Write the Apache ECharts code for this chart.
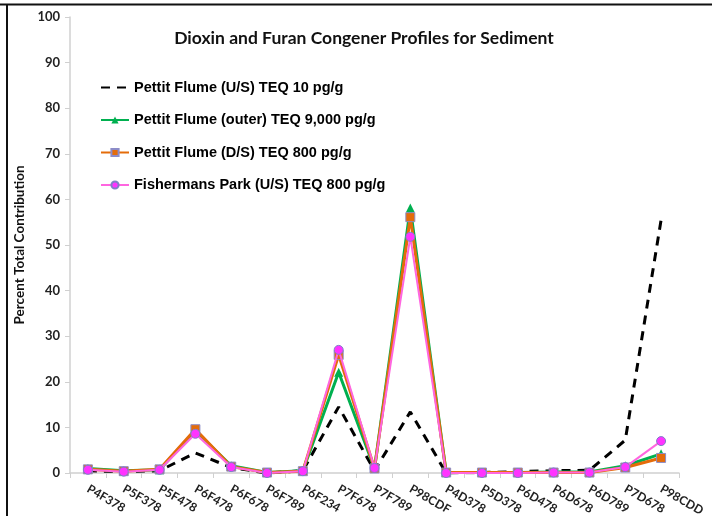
<!DOCTYPE html>
<html>
<head>
<meta charset="utf-8">
<script src="https://cdn.jsdelivr.net/npm/echarts@6/dist/echarts.min.js"></script>
<style>
  html, body { margin: 0; padding: 0; background: #fff; }
  #chart { width: 712px; height: 516px; }
</style>
</head>
<body>
<div id="chart"></div>
<script>
// congeners along the x axis
var congeners = ['P4F378', 'P5F378', 'P5F478', 'P6F478', 'P6F678', 'P6F789', 'P6F234', 'P7F678', 'P7F789',
  'P98CDF', 'P4D378', 'P5D378', 'P6D478', 'P6D678', 'P6D789', 'P7D678', 'P98CDD']

// percent total contribution per site
var pettitUS = [0.5, 0.3, 0.5, 4.4, 1.2, 0, 0.5, 14.5, 0.5, 13.4, 0, 0.1, 0.3, 0.5, 0.6, 7.2, 55.5]
var pettitOuter = [1.0, 0.5, 0.7, 9.3, 1.6, 0.1, 0.5, 22.1, 1.0, 58.1, 0.1, 0.1, 0.1, 0.2, 0.2, 1.6, 4.2]
var pettitDS = [0.8, 0.4, 0.8, 9.6, 1.4, 0.1, 0.4, 25.9, 1.0, 56.1, 0.1, 0.1, 0.1, 0.1, 0.1, 1.2, 3.3]
var fishermans = [0.7, 0.3, 0.7, 8.6, 1.3, 0, 0.4, 27.0, 1.1, 51.8, 0, 0, 0, 0.1, 0.1, 1.3, 7.0]

var seriesNames = [
  'Pettit Flume (U/S) TEQ 10 pg/g',
  'Pettit Flume (outer) TEQ 9,000 pg/g',
  'Pettit Flume (D/S) TEQ 800 pg/g',
  'Fishermans Park (U/S) TEQ 800 pg/g'
]

var chart = echarts.init(document.getElementById('chart'))

chart.setOption({
  animation: false,
  backgroundColor: '#fff',
  title: {
    text: 'Dioxin and Furan Congener Profiles for Sediment',
    left: 359,
    textAlign: 'center',
    top: 24,
    textStyle: { fontFamily: 'Lato', fontWeight: 'bold', fontSize: 17.5, color: '#111' }
  },
  legend: {
    orient: 'vertical',
    left: 95,
    top: 75,
    itemWidth: 28,
    itemHeight: 9,
    itemGap: 17.5,
    data: [
      { name: seriesNames[0], itemStyle: { opacity: 0 } },
      seriesNames[1],
      seriesNames[2],
      seriesNames[3]
    ],
    textStyle: { fontFamily: 'Liberation Sans', fontWeight: 'bold', fontSize: 14.5, color: '#000' }
  },
  grid: {
    left: 70,
    right: 33,
    top: 17,
    bottom: 43,
    outerBoundsMode: 'none'
  },
  xAxis: {
    type: 'category',
    data: congeners,
    boundaryGap: true,
    axisLine: { lineStyle: { color: '#d0d0d0', width: 1.5 } },
    axisTick: { show: true, length: 5, lineStyle: { color: '#d0d0d0' } },
    axisLabel: {
      rotate: -30,
      interval: 0,
      margin: 15,
      fontFamily: 'Lato',
      fontWeight: 'bold',
      fontSize: 12,
      color: '#222'
    }
  },
  yAxis: {
    type: 'value',
    min: 0,
    max: 100,
    interval: 10,
    name: 'Percent Total Contribution',
    nameLocation: 'middle',
    nameGap: 40,
    nameTextStyle: { fontFamily: 'Lato', fontWeight: 'bold', fontSize: 13.5, color: '#111' },
    axisLine: { show: true, lineStyle: { color: '#d0d0d0', width: 1.5 } },
    axisTick: { show: true, length: 5, lineStyle: { color: '#d0d0d0' } },
    splitLine: { show: false },
    axisLabel: {
      margin: 10,
      fontFamily: 'Lato',
      fontWeight: 'bold',
      fontSize: 13,
      color: '#222'
    }
  },
  graphic: [
    { type: 'line', shape: { x1: 0, y1: 4.5, x2: 712, y2: 4.5 }, style: { stroke: '#111', lineWidth: 2 } },
    { type: 'line', shape: { x1: 7, y1: 4, x2: 7, y2: 516 }, style: { stroke: '#111', lineWidth: 2 } }
  ],
  series: [
    {
      name: seriesNames[0],
      type: 'line',
      data: pettitUS,
      symbol: 'none',
      itemStyle: { color: '#000' },
      lineStyle: { color: '#000', width: 3, type: [9, 7] },
      z: 1
    },
    {
      name: seriesNames[1],
      type: 'line',
      data: pettitOuter,
      symbol: 'triangle',
      symbolSize: 9,
      itemStyle: { color: '#00B050' },
      lineStyle: { color: '#00B050', width: 3 },
      z: 2
    },
    {
      name: seriesNames[2],
      type: 'line',
      data: pettitDS,
      symbol: 'rect',
      symbolSize: 9,
      itemStyle: { color: '#E46C0A', borderColor: '#8c8cc8', borderWidth: 1 },
      lineStyle: { color: '#E46C0A', width: 3 },
      z: 3
    },
    {
      name: seriesNames[3],
      type: 'line',
      data: fishermans,
      symbol: 'circle',
      symbolSize: 9,
      itemStyle: { color: '#FF33FF', borderColor: '#7f7fc8', borderWidth: 1 },
      lineStyle: { color: '#FF66E0', width: 2 },
      z: 4
    }
  ]
})
</script>
</body>
</html>
